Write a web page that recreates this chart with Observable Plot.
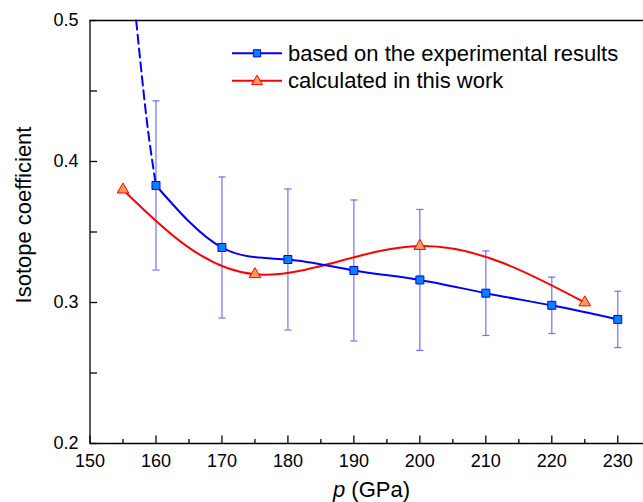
<!DOCTYPE html>
<html><head><meta charset="utf-8">
<script src="https://cdn.jsdelivr.net/npm/d3@7"></script>
<script src="https://cdn.jsdelivr.net/npm/@observablehq/plot@0.6"></script>
<style>
html,body{margin:0;padding:0;background:#fff;overflow:hidden}
#chart svg{display:block}
</style></head><body><div id="chart"></div>
<script>
// ---- data ----
const expP = [160, 170, 180, 190, 200, 210, 220, 230];
const expY = [0.383, 0.339, 0.3305, 0.3227, 0.316, 0.3066, 0.298, 0.288];
const expErr = [0.06, 0.05, 0.05, 0.05, 0.05, 0.03, 0.02, 0.02];
const calcP = [155, 175, 200, 225];
const calcY = [0.380, 0.320, 0.340, 0.300];
const extrapP = [157.0, 158.15, 159.05, 160];
const extrapY = [0.5, 0.448, 0.413, 0.383];
const xMajor = [150, 160, 170, 180, 190, 200, 210, 220, 230];
const xMinor = [155, 165, 175, 185, 195, 205, 215, 225];
const yMajor = [0.2, 0.3, 0.4, 0.5];
const yMinor = [0.25, 0.35, 0.45];
const seriesNames = ["based on the experimental results", "calculated in this work"];
const xTitleVar = "p";
const xTitleUnit = " (GPa)";
const yTitle = "Isotope coefficient";

// ---- derived tables ----
const expData = expP.map((p, i) => ({p, y: expY[i], lo: expY[i] - expErr[i], hi: expY[i] + expErr[i]}));
const calcData = calcP.map((p, i) => ({p, y: calcY[i]}));
const extrapData = extrapP.map((p, i) => ({p, y: extrapY[i]}));

const W = 643, H = 502, ML = 89.5, MR = 0, MT = 20, MB = 59;
const font = "'Liberation Sans', Arial, sans-serif";
const blue = "#0000ff", blueFill = "#0a82ff", red = "#ff0000", redFill = "#fd9a5d", errColor = "#7070ff";

const capSymbol = {draw(ctx) { ctx.moveTo(-3.6, 0); ctx.lineTo(3.6, 0); }};
const tickSym = (len, horiz) => ({draw(ctx) {
  if (horiz) { ctx.moveTo(0, 0); ctx.lineTo(len, 0); } else { ctx.moveTo(0, 0); ctx.lineTo(0, -len); }
}});

function legend() {
  const g = d3.create("svg:g").attr("font-family", font).attr("font-size", 22).attr("text-anchor", "start");
  const rows = [
    {name: seriesNames[0], color: blue, fill: blueFill, type: d3.symbolSquare, size: 52},
    {name: seriesNames[1], color: red, fill: redFill, type: d3.symbolTriangle, size: 52}
  ];
  rows.forEach((r, i) => {
    const cy = 53.3 + i * 27.4;
    g.append("line").attr("x1", 232).attr("x2", 282).attr("y1", cy).attr("y2", cy)
      .attr("stroke", r.color).attr("stroke-width", 2);
    g.append("path").attr("transform", `translate(257,${cy + (i ? 0.8 : 0)})`)
      .attr("d", d3.symbol(r.type, r.size)())
      .attr("fill", r.fill).attr("stroke", r.color).attr("stroke-width", 1);
    g.append("text").attr("x", 288).attr("y", cy).attr("dy", "0.35em").attr("fill", "#000")
      .attr("text-anchor", "start").text(r.name);
  });
  return g.node();
}

const chart = Plot.plot({
  width: W, height: H,
  marginLeft: ML, marginRight: MR, marginTop: MT, marginBottom: MB,
  style: {fontFamily: font, background: "#fff", color: "#000"},
  x: {domain: [150, 233.9], axis: null, label: null},
  y: {domain: [0.2, 0.5], axis: null, label: null},
  marks: [
    // error bars
    Plot.ruleX(expData, {x: "p", y1: "lo", y2: "hi", stroke: errColor, strokeWidth: 1.2}),
    Plot.dot(expData, {x: "p", y: "hi", symbol: capSymbol, stroke: errColor, strokeWidth: 1.2, fill: "none"}),
    Plot.dot(expData, {x: "p", y: "lo", symbol: capSymbol, stroke: errColor, strokeWidth: 1.2, fill: "none"}),
    // lines
    Plot.line(calcData, {x: "p", y: "y", curve: "natural", stroke: red, strokeWidth: 2}),
    Plot.line(expData, {x: "p", y: "y", curve: "natural", stroke: blue, strokeWidth: 2}),
    Plot.line(extrapData, {x: "p", y: "y", curve: "natural", stroke: blue, strokeWidth: 2, strokeDasharray: "9,5"}),
    // markers
    Plot.dot(calcData, {x: "p", y: "y", symbol: "triangle", r: 4.3, fill: redFill, stroke: red, strokeWidth: 1}),
    Plot.dot(expData, {x: "p", y: "y", symbol: "square", r: 4.5, fill: blueFill, stroke: blue, strokeWidth: 1}),
    // spines
    Plot.ruleX([150], {x: d => d, stroke: "#000", strokeWidth: 1.3}),
    Plot.ruleY([0.2, 0.5], {y: d => d, stroke: "#000", strokeWidth: 1.3}),
    // inward ticks
    Plot.dot(xMajor, {x: d => d, frameAnchor: "bottom", symbol: tickSym(8, false), stroke: "#000", strokeWidth: 1.3, fill: "none"}),
    Plot.dot(xMinor, {x: d => d, frameAnchor: "bottom", symbol: tickSym(4.5, false), stroke: "#000", strokeWidth: 1.3, fill: "none"}),
    Plot.dot(yMajor.concat(yMinor), {y: d => d, frameAnchor: "left", symbol: tickSym(7, true), stroke: "#000", strokeWidth: 1.3, fill: "none"}),
    // tick labels
    Plot.axisX(xMajor, {tickSize: 0, tickPadding: 11, fontSize: 18, tickFormat: d => String(d), label: null}),
    Plot.axisY(yMajor, {tickSize: 0, tickPadding: 11.5, fontSize: 18, tickFormat: d3.format(".1f"), label: null}),
    // titles
    Plot.text([yTitle], {frameAnchor: "left", rotate: -90, dx: -66, dy: -17, fontSize: 22, textAnchor: "middle", lineAnchor: "middle", fill: "#000"}),
    Plot.text([xTitleVar + xTitleUnit], {frameAnchor: "bottom", dx: 4.75, dy: 46, fontSize: 22, textAnchor: "middle", lineAnchor: "middle", fill: "#000"}),
    legend
  ]
});

d3.select(chart).selectAll("text").filter(function() { return this.textContent === xTitleVar + xTitleUnit; })
  .each(function() {
    const t = d3.select(this);
    t.text(null);
    t.append("tspan").attr("font-style", "italic").text(xTitleVar);
    t.append("tspan").text(xTitleUnit);
  });

document.getElementById("chart").appendChild(chart);
</script>
</body></html>
